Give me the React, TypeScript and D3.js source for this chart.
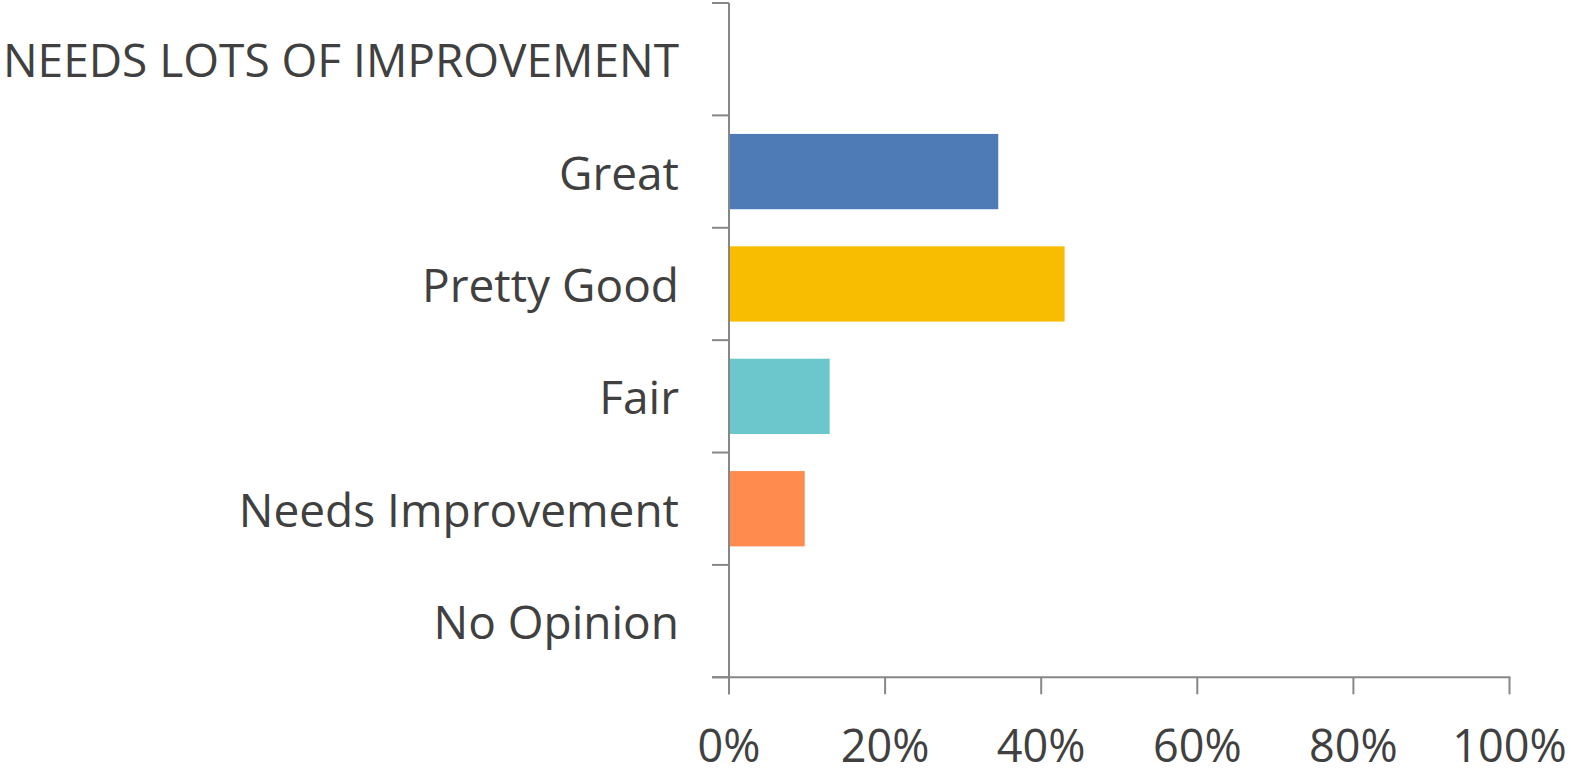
import React from "react";
import * as d3 from "d3";

const categories = [
  "NEEDS LOTS OF IMPROVEMENT",
  "Great",
  "Pretty Good",
  "Fair",
  "Needs Improvement",
  "No Opinion",
];
const values = [0, 34.5, 43.0, 12.9, 9.7, 0];
const colors = ["#4e7ab5", "#4e7ab5", "#f8bd00", "#6bc7cb", "#ff8b4f", "#999999"];
const xTicks = [0, 20, 40, 60, 80, 100];

const W = 1571;
const H = 768;
const m = { left: 729, right: 61.5, top: 3, bottom: 90.7 };

export default function App() {
  const x = d3.scaleLinear().domain([0, 100]).range([m.left, W - m.right]);
  const y = d3
    .scaleBand<string>()
    .domain(categories)
    .range([m.top, H - m.bottom])
    .paddingInner(0.33)
    .paddingOuter(0.165);
  const step = y.step();
  const axisColor = "#878787";
  const textColor = "#404040";
  const font = "'Open Sans', 'Noto Sans', sans-serif";
  const yBottom = H - m.bottom;
  const boundaries = categories.map((_, i) => m.top + i * step).concat([yBottom]);

  return (
    <svg
      width={W}
      height={H}
      style={{ position: "absolute", left: 0, top: 0, background: "#fff" }}
    >
      {categories.map((c, i) => (
        <rect
          key={c}
          x={x(0) + 1}
          y={y(c)!}
          width={Math.max(0, x(values[i]) - x(0) - 1)}
          height={y.bandwidth()}
          fill={colors[i]}
        />
      ))}
      {/* y axis */}
      <line x1={x(0)} x2={x(0)} y1={m.top} y2={yBottom + 17} stroke={axisColor} strokeWidth={2} />
      {boundaries.map((b, i) => (
        <line key={i} x1={x(0) - 17} x2={x(0)} y1={b} y2={b} stroke={axisColor} strokeWidth={2} />
      ))}
      {/* x axis */}
      <line x1={x(0) - 17} x2={x(100) + 1} y1={yBottom} y2={yBottom} stroke={axisColor} strokeWidth={2} />
      {xTicks.map((t) => (
        <line key={t} x1={x(t)} x2={x(t)} y1={yBottom} y2={yBottom + 17} stroke={axisColor} strokeWidth={2} />
      ))}
      {xTicks.map((t) => (
        <text
          key={t}
          x={x(t)}
          y={744}
          textAnchor="middle"
          dominantBaseline="central"
          fontFamily={font}
          fontSize={45}
          fill={textColor}
        >
          {t}%
        </text>
      ))}
      {categories.map((c) => (
        <text
          key={c}
          x={679}
          y={y(c)! + y.bandwidth() / 2}
          textAnchor="end"
          dominantBaseline="central"
          fontFamily={font}
          fontSize={46}
          fill={textColor}
        >
          {c}
        </text>
      ))}
    </svg>
  );
}
